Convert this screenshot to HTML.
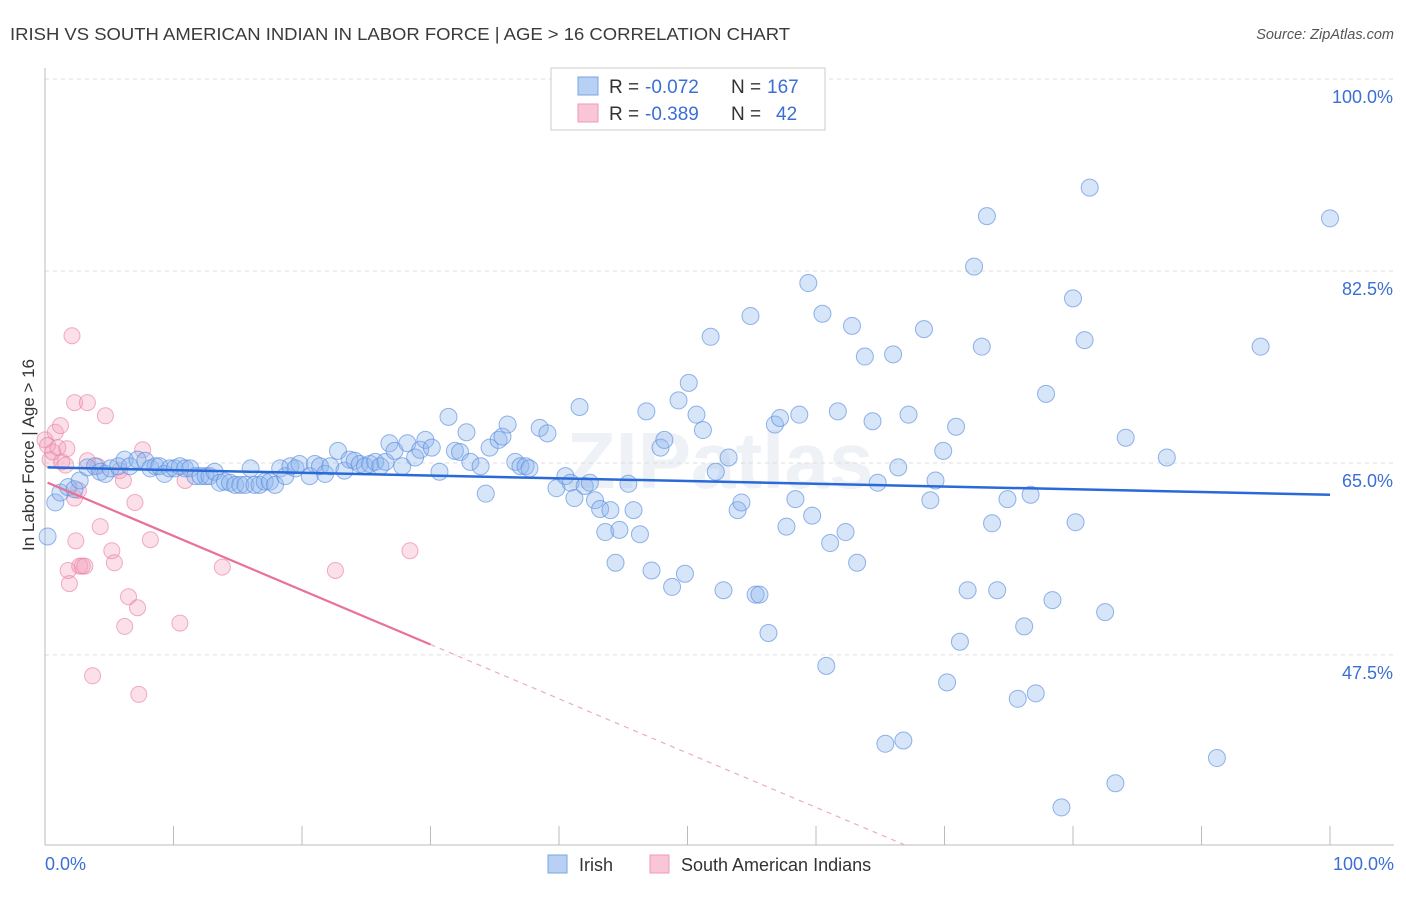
<!DOCTYPE html>
<html><head><meta charset="utf-8">
<style>
body{margin:0;background:#fff;font-family:"Liberation Sans",sans-serif;}
svg text{font-family:"Liberation Sans",sans-serif;}
</style></head>
<body>
<svg id="chart" width="1406" height="892" viewBox="0 0 1406 892">
<text x="10" y="40" font-size="17.5" fill="#3a3a3a" textLength="780" lengthAdjust="spacingAndGlyphs">IRISH VS SOUTH AMERICAN INDIAN IN LABOR FORCE | AGE &gt; 16 CORRELATION CHART</text>
<text x="1394" y="39" font-size="14.5" fill="#555" font-style="italic" text-anchor="end">Source: ZipAtlas.com</text>
<text x="720" y="488" font-size="80" fill="#eef1f5" text-anchor="middle" font-weight="bold">ZIPatlas</text>
<g id="grid"></g>
<g id="axes"></g>
<g id="pts"></g>
<g id="trends"></g>
<text transform="translate(34,455) rotate(-90)" font-size="17" fill="#333" text-anchor="middle">In Labor Force | Age &gt; 16</text>
<g>
<rect x="551" y="68" width="274" height="62" fill="#fff" stroke="#ccc"/>
<rect x="578" y="77" width="20" height="18" fill="#b7d0f3" stroke="#7aa6e6"/>
<rect x="578" y="104" width="20" height="18" fill="#f9c6d6" stroke="#ef9ab5"/>
<text x="609" y="93" font-size="19" fill="#333">R =</text>
<text x="645" y="93" font-size="19" fill="#3b6fd4">-0.072</text>
<text x="731" y="93" font-size="19" fill="#333">N =</text>
<text x="767" y="93" font-size="19" fill="#3b6fd4">167</text>
<text x="609" y="120" font-size="19" fill="#333">R =</text>
<text x="645" y="120" font-size="19" fill="#3b6fd4">-0.389</text>
<text x="731" y="120" font-size="19" fill="#333">N =</text>
<text x="776" y="120" font-size="19" fill="#3b6fd4">42</text>
</g>
<g>
<rect x="548" y="855" width="19" height="18" fill="#b7d0f3" stroke="#7aa6e6"/>
<text x="579" y="871" font-size="18" fill="#333">Irish</text>
<rect x="650" y="855" width="19" height="18" fill="#f9c6d6" stroke="#ef9ab5"/>
<text x="681" y="871" font-size="18" fill="#333">South American Indians</text>
</g>
</svg>
<script>
const yTicks=[100,82.5,65,47.5];
const yTickLabels=["100.0%","82.5%","65.0%","47.5%"];
const xTicks=[0,10,20,30,40,50,60,70,80,90,100];
const blueX=[0.2,0.8,1.2,1.8,2.3,2.7,3.3,3.9,4.3,4.7,5.1,5.7,6.2,6.6,7.2,7.8,8.2,8.6,8.9,9.3,9.7,10.1,10.5,10.9,11.3,11.7,12.1,12.5,12.8,13.2,13.6,14.0,14.4,14.8,15.2,15.6,16.0,16.3,16.7,17.1,17.5,17.9,18.3,18.7,19.1,19.5,19.8,20.6,21.0,21.4,21.8,22.2,22.8,23.3,23.7,24.1,24.5,24.9,25.3,25.7,26.1,26.5,26.8,27.2,27.8,28.2,28.8,29.2,29.6,30.1,30.7,31.4,31.9,32.3,32.8,33.1,33.9,34.3,34.6,35.3,35.6,36.0,36.6,37.0,37.4,37.7,38.5,39.1,39.8,40.5,40.9,41.2,41.6,42.0,42.4,42.8,43.2,43.6,44.0,44.4,44.7,45.4,45.8,46.3,46.8,47.2,47.9,48.2,48.8,49.3,49.8,50.1,50.7,51.2,51.8,52.2,52.8,53.2,53.9,54.2,54.9,55.3,55.6,56.3,56.8,57.2,57.7,58.4,58.7,59.4,59.7,60.5,60.8,61.1,61.7,62.3,62.8,63.2,63.8,64.4,64.8,65.4,66.0,66.4,66.8,67.2,68.4,68.9,69.3,69.9,70.2,70.9,71.2,71.8,72.3,72.9,73.3,73.7,74.1,74.9,75.7,76.2,76.7,77.1,77.9,78.4,79.1,80.0,80.2,80.9,81.3,82.5,83.3,84.1,87.3,91.2,94.6,100];
const blueY=[58.3,61.4,62.3,62.8,62.6,63.4,64.6,64.7,64.2,64.0,64.5,64.7,65.3,64.7,65.3,65.2,64.5,64.7,64.7,64.0,64.5,64.5,64.7,64.5,64.5,63.8,63.8,63.8,63.8,64.2,63.2,63.3,63.2,63.0,63.0,63.0,64.5,63.0,63.0,63.3,63.3,63.0,64.5,63.8,64.7,64.5,64.9,63.8,64.9,64.7,64.0,64.7,66.1,64.3,65.3,65.2,64.9,64.7,64.9,65.1,64.7,65.1,66.8,66.1,64.7,66.8,65.5,66.2,67.1,66.4,64.2,69.2,66.1,66.0,67.8,65.1,64.7,62.2,66.4,67.1,67.4,68.5,65.1,64.7,64.7,64.5,68.2,67.7,62.7,63.8,63.2,61.8,70.1,62.9,63.2,61.6,60.8,58.7,60.7,55.9,58.9,63.1,60.7,58.5,69.7,55.2,66.4,67.1,53.7,70.7,54.9,72.3,69.4,68.0,76.5,64.2,53.4,65.5,60.7,61.4,78.4,53.0,53.0,49.5,68.5,69.1,59.2,61.7,69.4,81.4,60.2,78.6,46.5,57.7,69.7,58.7,77.5,55.9,74.7,68.8,63.2,39.4,74.9,64.6,39.7,69.4,77.2,61.6,63.4,66.1,45.0,68.3,48.7,53.4,82.9,75.6,87.5,59.5,53.4,61.7,43.5,50.1,62.1,44.0,71.3,52.5,33.6,80.0,59.6,76.2,90.1,51.4,35.8,67.3,65.5,38.1,75.6,87.3];
const pinkX=[0,0.2,0.4,0.6,0.8,1.0,1.2,1.3,1.6,1.7,1.8,1.9,2.1,2.3,2.3,2.4,2.6,2.7,2.9,3.1,3.3,3.3,3.7,4.1,4.3,4.7,5.2,5.4,5.8,6.1,6.2,6.5,7.0,7.2,7.3,7.6,8.2,10.5,10.9,13.8,22.6,28.4];
const pinkY=[67.1,66.6,65.3,66.0,67.8,66.4,68.4,65.1,64.8,66.3,55.2,54.0,76.6,70.5,61.8,57.9,62.5,55.6,55.6,55.6,70.5,65.2,45.6,64.7,59.2,69.3,57.0,55.9,64.3,63.4,50.1,52.8,61.4,51.8,43.9,66.2,58.0,50.4,63.4,55.5,55.2,57.0];
const blueTrend=[64.6,62.1];   // y at x=0, y at x=100
const pinkTrend=[63.3,-0.495]; // intercept, slope
const pinkSolidEnd=30;

const NS="http://www.w3.org/2000/svg";
const X=v=>45+v*12.85;
const Y=v=>79+(100-v)*10.97;
function mk(tag,attrs,parent){const e=document.createElementNS(NS,tag);for(const k in attrs)e.setAttribute(k,attrs[k]);parent.appendChild(e);return e;}
const grid=document.getElementById('grid'),axes=document.getElementById('axes'),pts=document.getElementById('pts'),tr=document.getElementById('trends');
yTicks.forEach((t,i)=>{
  const l=mk('line',{x1:45,x2:1394,y1:Y(t),y2:Y(t),stroke:'#ddd','stroke-dasharray':'4,4'},grid);
  
  
  const tx=mk('text',{x:1393,y:Y(t)+24,'font-size':18,fill:'#3b6fd4','text-anchor':'end'},axes);
  tx.textContent=yTickLabels[i];
  
  
});
const ax=mk('line',{x1:45,x2:45,y1:68,y2:845,stroke:'#bbb'},axes);


const bx=mk('line',{x1:45,x2:1394,y1:845,y2:845,stroke:'#bbb'},axes);


xTicks.forEach(t=>{
  const l=mk('line',{x1:X(t),x2:X(t),y1:826,y2:845,stroke:'#bbb'},axes);
  
  
});
const xl0=mk('text',{x:45,y:870,'font-size':18,fill:'#3b6fd4'},axes);xl0.textContent='0.0%';


const xl1=mk('text',{x:1394,y:870,'font-size':18,fill:'#3b6fd4','text-anchor':'end'},axes);xl1.textContent='100.0%';


pinkX.forEach((x,i)=>{
  const c=mk('circle',{cx:X(x),cy:Y(pinkY[i]),r:8,fill:'rgba(244,160,188,0.32)',stroke:'rgba(234,130,165,0.65)','stroke-width':1},pts);
  
  
});
blueX.forEach((x,i)=>{
  const c=mk('circle',{cx:X(x),cy:Y(blueY[i]),r:8.5,fill:'rgba(140,180,238,0.35)',stroke:'rgba(90,142,222,0.65)','stroke-width':1},pts);
  
  
});
const bl=mk('line',{x1:X(0.2),y1:Y(blueTrend[0]+(blueTrend[1]-blueTrend[0])*0.002),x2:X(100),y2:Y(blueTrend[1]),stroke:'#2a6ad8','stroke-width':2.5},tr);


const pf=x=>pinkTrend[0]+pinkTrend[1]*x;
const ps=mk('line',{x1:X(0.2),y1:Y(pf(0.2)),x2:X(pinkSolidEnd),y2:Y(pf(pinkSolidEnd)),stroke:'#e8719a','stroke-width':2.2},tr);


const xEnd=(pinkTrend[0]-30.2)/(-pinkTrend[1]);
const pd=mk('line',{x1:X(pinkSolidEnd),y1:Y(pf(pinkSolidEnd)),x2:X(xEnd),y2:Y(pf(xEnd)),stroke:'#eeaac2','stroke-width':1.2,'stroke-dasharray':'5,5'},tr);


</script>
</body></html>
